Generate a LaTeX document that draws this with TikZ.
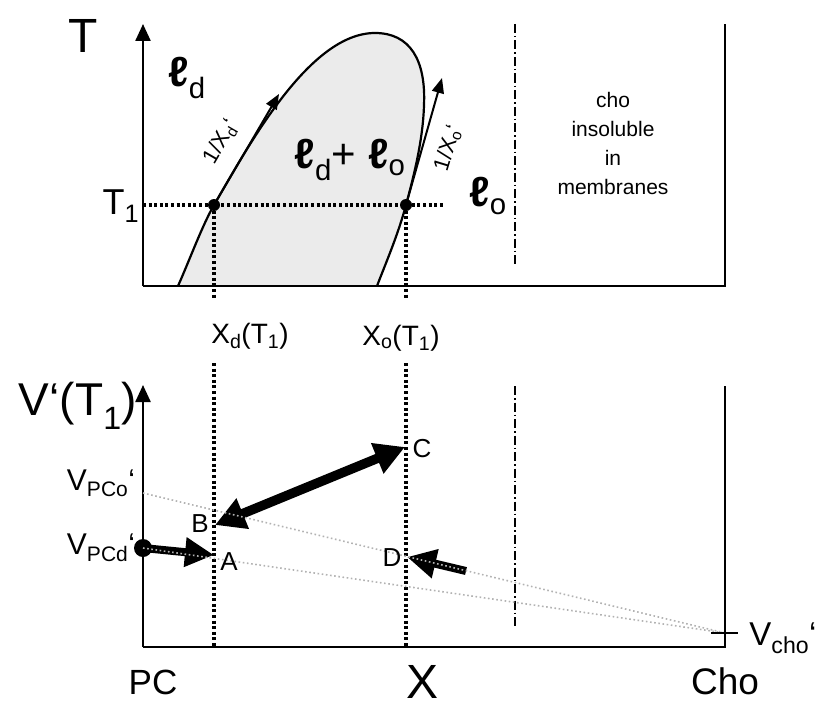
\documentclass[tikz,border=0pt]{standalone}
\usepackage{fontspec}
\setmainfont{Liberation Sans}
\usetikzlibrary{arrows.meta}
\newcommand\fsz[1]{\fontsize{#1}{#1}\selectfont}
\newcommand\myell{{\bfseries ℓ}}
\begin{document}
\begin{tikzpicture}[x=1pt,y=-1pt,
  axis/.style={line width=2.4pt},
  axarrow/.style={line width=2.4pt,-{Triangle[length=17pt,width=15pt]}},
  blackdots/.style={line width=3.2pt, dash pattern=on 3pt off 2.6pt},
  greydots/.style={gray!60, line width=1.6pt, dash pattern=on 1.6pt off 2.6pt},
  dashdot/.style={line width=1.5pt, dash pattern=on 9pt off 3pt on 1.5pt off 3pt},
  fat/.style={line width=8pt,-{Triangle[length=29pt,width=28pt]}},
  tangent/.style={line width=2pt,-{Triangle[length=15pt,width=12pt]}},
  dot/.style={circle,fill=black,inner sep=0pt,minimum size=#1},
  lbl/.style={inner sep=0pt}]
\useasboundingbox (0,0) rectangle (819,709);

% ---------------- top panel ----------------
\fill[gray!16] (178,286) .. controls (190,259) and (202,226) .. (214,205)
  .. controls (250,143) and (310,33) .. (375,33)
  .. controls (410,33) and (426,60) .. (424,105)
  .. controls (423,140) and (414,175) .. (406,205)
  .. controls (398,235) and (385,265) .. (377,286) -- cycle;
\draw[line width=2.2pt] (178,286) .. controls (190,259) and (202,226) .. (214,205)
  .. controls (250,143) and (310,33) .. (375,33)
  .. controls (410,33) and (426,60) .. (424,105)
  .. controls (423,140) and (414,175) .. (406,205)
  .. controls (398,235) and (385,265) .. (377,286);

\coordinate (o1) at (143,286);
\coordinate (t1top) at (143,24);
\coordinate (r1b) at (725,286);
\coordinate (r1t) at (725,24);
\draw[axarrow] (o1) -- (t1top);
\draw[axis] (o1) -- (r1b) -- (r1t);
\coordinate (dd1t) at (515,24);
\coordinate (dd1b) at (515,266);
\draw[dashdot] (dd1t) -- (dd1b);

\node[dot=12pt] (p1) at (214,205) {};
\node[dot=12pt] (p2) at (406,205) {};
\coordinate (t1y) at (143,205);
\coordinate (t1end) at (444,205);
\draw[blackdots] (t1y) -- (t1end);
\coordinate (p1b) at (214,298);
\coordinate (p2b) at (406,298);
\draw[blackdots] (p1.center) -- (p1b);
\draw[blackdots] (p2.center) -- (p2b);

\coordinate (tdend) at (279,94);
\coordinate (toend) at (442,78);
\draw[tangent] (p1.center) -- (tdend);
\draw[tangent] (p2.center) -- (toend);

\node[lbl,font=\fsz{48}] (Tlab) at (83,36) {T};
\node[lbl,font=\fsz{36}] (T1lab) at (121,206) {T\textsubscript{1}};
\node[lbl,font=\fsz{42}] (ld) at (187,78) {\myell\textsubscript{d}};
\node[lbl,font=\fsz{42}] (ldlo) at (350,160) {\myell\textsubscript{d}+ \myell\textsubscript{o}};
\node[lbl,font=\fsz{42}] (lo) at (488,196) {\myell\textsubscript{o}};
\node[lbl,rotate=60,font=\fsz{22}] (xd) at (221,142) {1/X\textsubscript{d}‘};
\node[lbl,rotate=73,font=\fsz{22}] (xo) at (448,148) {1/X\textsubscript{o}‘};
\node[lbl,align=center,font=\fsz{21}] (cho) at (613,143) {cho\\[8pt]insoluble\\[8pt]in\\[8pt]membranes};

\node[lbl,font=\fsz{28}] (xdT) at (250,336) {X\textsubscript{d}(T\textsubscript{1})};
\node[lbl,font=\fsz{28}] (xoT) at (401,338) {X\textsubscript{o}(T\textsubscript{1})};

% ---------------- bottom panel ----------------
\coordinate (o2) at (143,647);
\coordinate (t2top) at (143,385);
\coordinate (r2b) at (725,647);
\coordinate (r2t) at (725,386);
\draw[axarrow] (o2) -- (t2top);
\draw[axis] (o2) -- (r2b) -- (r2t);
\coordinate (dd2t) at (515,386);
\coordinate (dd2b) at (515,628);
\draw[dashdot] (dd2t) -- (dd2b);

\coordinate (v1t) at (214,363);
\coordinate (v1b) at (214,647);
\coordinate (v2t) at (406,363);
\coordinate (v2b) at (406,647);
\draw[blackdots] (v1t) -- (v1b);
\draw[blackdots] (v2t) -- (v2b);

\coordinate (pA) at (214,555);
\coordinate (pB) at (215,525);
\coordinate (pC) at (405,447);
\coordinate (pD) at (407,557);
\coordinate (Dtail) at (466,571);
\coordinate (vpco) at (143,493);
\coordinate (vcho) at (725,633);
\node[dot=18pt] (vpcd) at (143,548) {};

\draw[fat] (vpcd.center) -- (pA);
\draw[line width=9.5pt,{Triangle[length=30pt,width=31pt]}-{Triangle[length=30pt,width=31pt]}] (pB) -- (pC);
\draw[fat] (Dtail) -- (pD);

\draw[greydots] (vpco) -- (vcho);
\draw[greydots] (vpcd.center) -- (vcho);
\coordinate (tickl) at (711,633);
\coordinate (tickr) at (738,633);
\draw[line width=1.6pt] (tickl) -- (tickr);

\node[lbl,font=\fsz{46}] (Vlab) at (78,406) {V‘(T\textsubscript{1})};
\node[lbl,font=\fsz{30}] (vpcolab) at (101,483) {V\textsubscript{PCo}‘};
\node[lbl,font=\fsz{30}] (vpcdlab) at (101,548) {V\textsubscript{PCd}‘};
\node[lbl,font=\fsz{26}] (Alab) at (229,562) {A};
\node[lbl,font=\fsz{26}] (Blab) at (200,524) {B};
\node[lbl,font=\fsz{26}] (Clab) at (422,449) {C};
\node[lbl,font=\fsz{26}] (Dlab) at (392,558) {D};
\node[lbl,font=\fsz{33}] (vcholab) at (783,638) {V\textsubscript{cho}‘};
\node[lbl,font=\fsz{35}] (PC) at (153,682) {PC};
\node[lbl,font=\fsz{48}] (X) at (423,682) {X};
\node[lbl,font=\fsz{37}] (Cho) at (725,681) {Cho};
\end{tikzpicture}
\end{document}
